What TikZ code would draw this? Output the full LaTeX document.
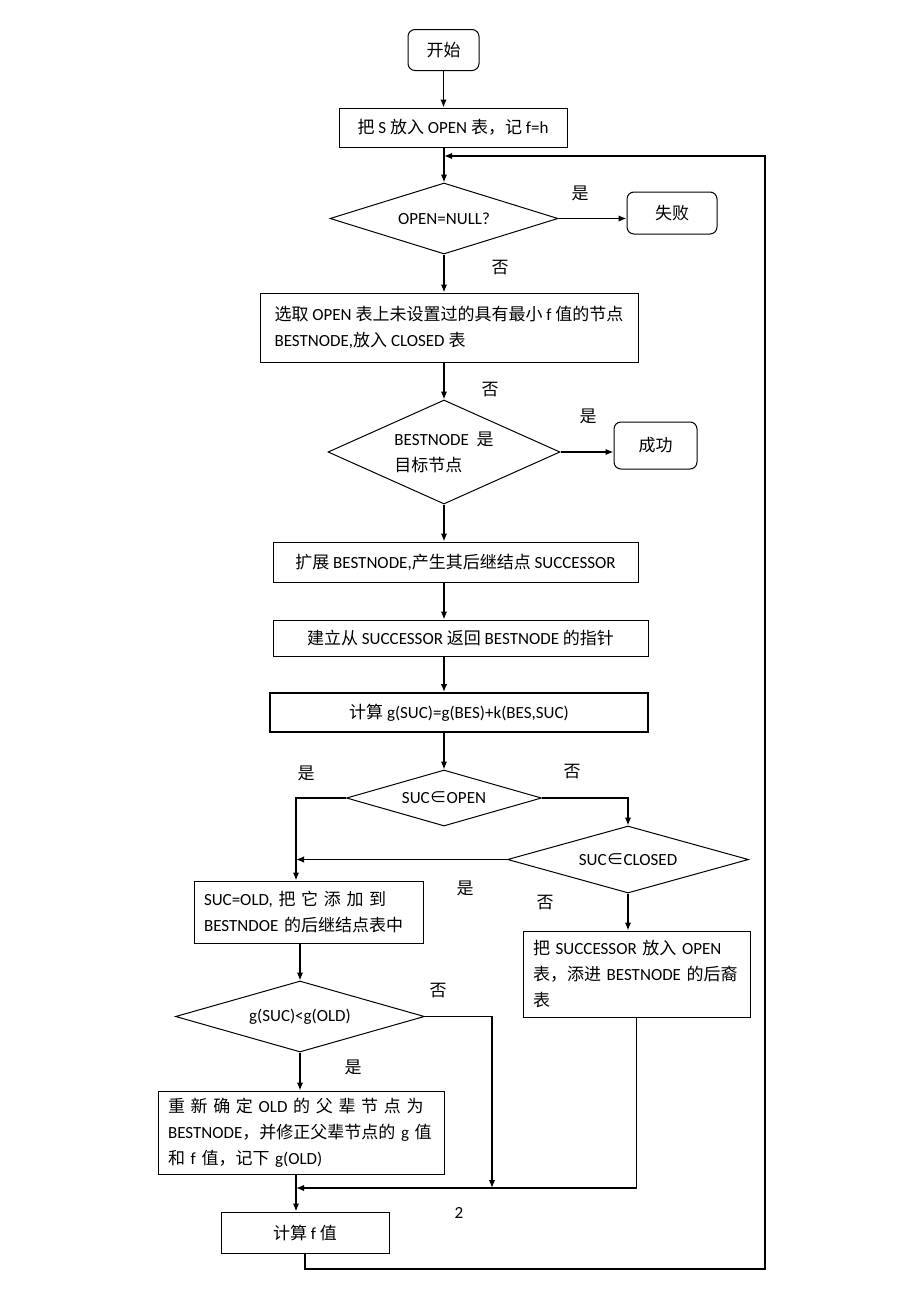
\documentclass[tikz,border=0pt]{standalone}
\usepackage{fontspec}
\setmainfont{Carlito}
\newfontfamily\cjk{Noto Sans CJK SC}
\usetikzlibrary{arrows.meta,shapes.geometric,positioning}

% Chinese characters switch to the CJK face by themselves
\XeTeXinterchartokenstate=1
\newXeTeXintercharclass\cjkclass
\newcount\cjkcode
\cjkcode="4E00
\loop
  \XeTeXcharclass\cjkcode=\cjkclass
  \advance\cjkcode by 1
\ifnum\cjkcode<"A000 \repeat
\cjkcode="3000
\loop
  \XeTeXcharclass\cjkcode=\cjkclass
  \advance\cjkcode by 1
\ifnum\cjkcode<"3040 \repeat
\cjkcode="FF00
\loop
  \XeTeXcharclass\cjkcode=\cjkclass
  \advance\cjkcode by 1
\ifnum\cjkcode<"FFF0 \repeat
\XeTeXcharclass"2208=\cjkclass
\XeTeXinterchartoks 0 \cjkclass={\begingroup\cjk}
\XeTeXinterchartoks 4095 \cjkclass={\begingroup\cjk}
\XeTeXinterchartoks \cjkclass 0={\endgroup}
\XeTeXinterchartoks \cjkclass 4095={\endgroup}

\tikzset{
        block/.style={draw, line width=1pt, inner sep=0pt, align=center},
        term/.style={block, rounded corners=7pt},
        test/.style={draw, diamond, line width=1pt, inner sep=0pt},
        para/.style={block, align=left, inner xsep=10pt, inner ysep=2pt},
        flow/.style={-{Latex[length=8pt,width=6.5pt]}, line width=1.5pt},
        ans/.style={inner sep=0pt}
}
\newcommand{\spread}[1]{\makebox[\linewidth][s]{#1}}

\begin{document}
\begin{tikzpicture}[x=1pt, y=-1pt, font=\fontsize{17pt}{26pt}\selectfont]
        \useasboundingbox (0,0) rectangle (920,1301);
        \node[term, minimum width=71pt, minimum height=41pt] (start) at (443.5,50) {开始};
        \node[block, minimum width=228pt, minimum height=39pt] (put) at (453,127.5) {把 S 放入 OPEN 表，记 f=h};
        \node[test, aspect=3.2, minimum width=228pt, minimum height=71pt] (isnull) at (444,218.5) {OPEN=NULL?};
        \node[term, minimum width=90pt, minimum height=42pt] (fail) at (672,213) {失败};
        \node[block, align=left, minimum width=378pt, minimum height=69pt] (pick) at (449,327.5) {选取 OPEN 表上未设置过的具有最小 f 值的节点\\BESTNODE,放入 CLOSED 表};
        \node[test, aspect=2.2, align=left, minimum width=232pt, minimum height=104pt] (isgoal) at (444,452) {BESTNODE\ \ 是\\目标节点};
        \node[term, minimum width=83pt, minimum height=47pt] (succ) at (655.5,445.5) {成功};
        \node[block, minimum width=365pt, minimum height=40pt] (expand) at (455.5,562) {扩展 BESTNODE,产生其后继结点 SUCCESSOR};
        \node[block, minimum width=375pt, minimum height=36pt] (link) at (460.5,638) {建立从 SUCCESSOR 返回 BESTNODE 的指针};
        \node[block, line width=1.9pt, minimum width=378pt, minimum height=39pt] (calcg) at (459,712.5) {计算 g(SUC)=g(BES)+k(BES,SUC)};
        \node[test, aspect=3.5, minimum width=195pt, minimum height=56pt] (inopen) at (444,798) {SUC∈OPEN};
        \node[test, aspect=3.6, minimum width=241pt, minimum height=67pt] (inclosed) at (628,859.5) {SUC∈CLOSED};
        \node[para, text width=209pt, minimum height=62pt] (old) at (308.5,912) {\spread{SUC=OLD, 把 它 添 加 到}\\BESTNDOE 的后继结点表中};
        \node[para, text width=207pt, minimum height=86pt] (addopen) at (636.5,974) {\spread{把 SUCCESSOR 放入 OPEN}\\\spread{表，添进 BESTNODE 的后裔}\\表};
        \node[test, aspect=3.5, minimum width=249pt, minimum height=71pt] (less) at (300,1016.5) {g(SUC)<g(OLD)};
        \node[para, text width=266pt, minimum height=83pt] (reparent) at (301,1132.5) {\spread{重 新 确 定 OLD 的 父 辈 节 点 为}\\\spread{BESTNODE，并修正父辈节点的 g 值}\\和 f 值，记下 g(OLD)};
        \node[block, minimum width=168pt, minimum height=41pt] (calcf) at (305,1232.5) {计算 f 值};
        \node (page) at (459,1213) {2};

        \node[ans] (y1) at (580,193) {是};
        \node[ans] (n1) at (500,268) {否};
        \node[ans] (n2) at (490,390) {否};
        \node[ans] (y2) at (588,416) {是};
        \node[ans] (y3) at (306,773) {是};
        \node[ans] (n3) at (572,772) {否};
        \node[ans] (y4) at (465,888) {是};
        \node[ans] (n4) at (545,903) {否};
        \node[ans] (n5) at (438,991) {否};
        \node[ans] (y5) at (353,1067) {是};

        \coordinate (back) at (444,156);
        \coordinate (corner) at (765,1269);
        \coordinate (yesturn) at (296,798);
        \coordinate (join) at (296,1188);
        \coordinate (nojoin) at (492,1188);

        \draw[flow] (start.south) -- (start.south |- put.north);
        \draw[flow] (isnull.north |- put.south) -- (isnull.north);
        \draw[flow] (isnull.east) -- (isnull.east -| fail.west);
        \draw[flow] (isnull.south) -- (isnull.south |- pick.north);
        \draw[flow] (isgoal.north |- pick.south) -- (isgoal.north);
        \draw[flow] (isgoal.east) -- (isgoal.east -| succ.west);
        \draw[flow] (isgoal.south) -- (isgoal.south |- expand.north);
        \draw[flow] (isgoal.south |- expand.south) -- (isgoal.south |- link.north);
        \draw[flow] (isgoal.south |- link.south) -- (isgoal.south |- calcg.north);
        \draw[flow] (inopen.north |- calcg.south) -- (inopen.north);
        \draw[flow] (inopen.west) -- (yesturn) -- (yesturn |- old.north);
        \draw[flow] (inopen.east) -| (inclosed.north);
        \draw[flow] (inclosed.west) -- (inclosed.west -| yesturn);
        \draw[flow] (inclosed.south) -- (inclosed.south |- addopen.north);
        \draw[flow] (less.north |- old.south) -- (less.north);
        \draw[flow] (less.east) -| (nojoin);
        \draw[flow] (less.south) -- (less.south |- reparent.north);
        \draw[flow] (addopen.south) |- (join);
        \draw[flow] (join |- reparent.south) -- (join |- calcf.north);
        \draw[flow] (calcf.south) |- (corner) |- (back);
\end{tikzpicture}
\end{document}
